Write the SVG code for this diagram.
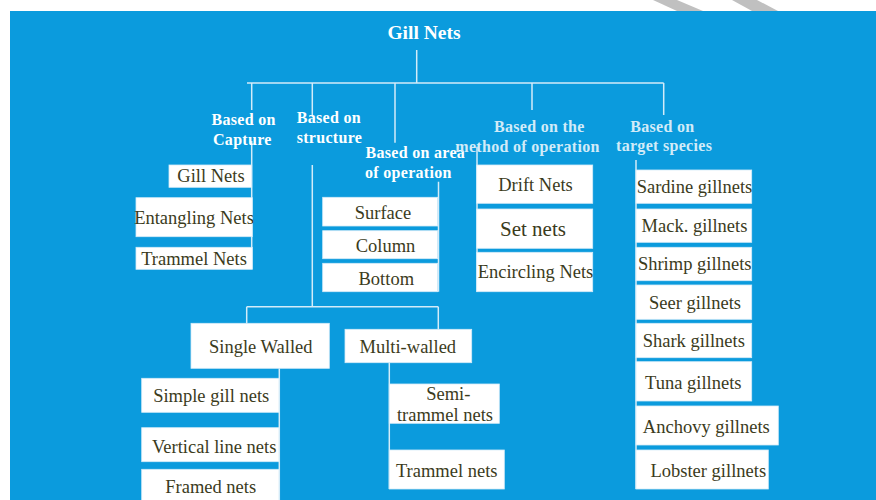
<svg xmlns="http://www.w3.org/2000/svg" width="876" height="500" viewBox="0 0 876 500">
<style>
.bg{fill:#0b9bdd}
.box{fill:#ffffff;stroke:#d4ecf8;stroke-width:0.8}
.lbl{font-family:"Liberation Serif","Times New Roman",serif;font-size:18.5px;fill:#3b3b1c;text-anchor:middle}
.hdr{font-family:"Liberation Serif","Times New Roman",serif;font-size:16px;font-weight:bold;fill:#ffffff;letter-spacing:0.3px}
.hdr2{fill:#d2ebf8}
.title{font-family:"Liberation Serif","Times New Roman",serif;font-size:19.5px;font-weight:bold;fill:#ffffff;text-anchor:middle}
.ln{stroke:#d3ecf9;stroke-width:1.5;fill:none}
</style>
<rect width="876" height="500" fill="#ffffff"/>
<polygon points="653,0 677,0 703,11 677,11" fill="#c0c0c0"/>
<polygon points="732,0 757,0 778,11 752,11" fill="#c0c0c0"/>
<rect class="bg" x="10" y="11" width="866" height="489"/>

<g id="connectors">
<path class="ln" d="M416.7,50 V83 M247,83 H663.7"/>
<path class="ln" d="M251.7,83 V110 M251.7,141 V269"/>
<path class="ln" d="M312.3,83 V117 M312.3,165 V306.7 M246.7,306.7 H438.3 M246.7,306.7 V323.3 M438.3,306.7 V329.3"/>
<path class="ln" d="M395,83 V142.7 M438.5,181.7 V291.7"/>
<path class="ln" d="M532,83 V110 M477,146.7 V291.7"/>
<path class="ln" d="M663.7,83 V115 M636,160 V489"/>
<path class="ln" d="M279.3,368.3 V500"/>
<path class="ln" d="M389.3,362.7 V489"/>
</g>

<g id="title"><text class="title" x="424" y="39">Gill Nets</text></g>

<g id="hdr-capture"><text class="hdr" x="211.5" y="125">Based on</text><text class="hdr" x="213" y="144.5">Capture</text></g>
<g id="hdr-structure"><text class="hdr" x="296.7" y="123.3">Based on</text><text class="hdr" x="296.7" y="142.7">structure</text></g>
<g id="hdr-area"><text class="hdr" x="365.5" y="158.3">Based on area</text><text class="hdr" x="365" y="177.7">of operation</text></g>
<g id="hdr-method"><text class="hdr hdr2" x="494" y="131.7">Based on the</text><text class="hdr hdr2" x="455.3" y="151.7">method of operation</text></g>
<g id="hdr-species"><text class="hdr hdr2" x="630.3" y="131.7">Based on</text><text class="hdr hdr2" x="616" y="151.2">target species</text></g>

<g id="n-gillnets"><rect class="box" x="169" y="165" width="82.7" height="22.3"/><text class="lbl" x="211" y="181.7">Gill Nets</text></g>
<g id="n-entangling"><rect class="box" x="136" y="197.7" width="116.3" height="39"/><text class="lbl" x="194" y="224">Entangling Nets</text></g>
<g id="n-trammel1"><rect class="box" x="136" y="247.3" width="116.3" height="22"/><text class="lbl" x="194" y="265">Trammel Nets</text></g>

<g id="n-surface"><rect class="box" x="322.7" y="197.3" width="115" height="28.7"/><text class="lbl" x="383" y="219">Surface</text></g>
<g id="n-column"><rect class="box" x="322.7" y="230.7" width="115" height="28"/><text class="lbl" x="385.5" y="252.3">Column</text></g>
<g id="n-bottom"><rect class="box" x="322.7" y="263.3" width="115" height="28.4"/><text class="lbl" x="386.3" y="285">Bottom</text></g>

<g id="n-drift"><rect class="box" x="476.7" y="165" width="116" height="38.3"/><text class="lbl" x="535.5" y="191">Drift Nets</text></g>
<g id="n-set"><rect class="box" x="476.7" y="209" width="116" height="39.3"/><text class="lbl" x="533" y="236" style="font-size:21px">Set nets</text></g>
<g id="n-encircling"><rect class="box" x="476.7" y="252.3" width="116" height="39.4"/><text class="lbl" x="535.5" y="278.3">Encircling Nets</text></g>

<g id="n-sardine"><rect class="box" x="636" y="170" width="115.7" height="33.3"/><text class="lbl" x="694.5" y="192.7">Sardine gillnets</text></g>
<g id="n-mack"><rect class="box" x="636" y="209" width="115.7" height="33.3"/><text class="lbl" x="694.5" y="231.7">Mack. gillnets</text></g>
<g id="n-shrimp"><rect class="box" x="636" y="247.3" width="115.7" height="33.4"/><text class="lbl" x="694.7" y="270">Shrimp gillnets</text></g>
<g id="n-seer"><rect class="box" x="636" y="285" width="115.7" height="34.3"/><text class="lbl" x="695" y="309.3">Seer gillnets</text></g>
<g id="n-shark"><rect class="box" x="636" y="323.3" width="115.7" height="34.4"/><text class="lbl" x="693.8" y="346.7">Shark gillnets</text></g>
<g id="n-tuna"><rect class="box" x="636" y="361.7" width="115.7" height="39.3"/><text class="lbl" x="693.3" y="389">Tuna gillnets</text></g>
<g id="n-anchovy"><rect class="box" x="636" y="406" width="142.3" height="39"/><text class="lbl" x="706.3" y="433.3">Anchovy  gillnets</text></g>
<g id="n-lobster"><rect class="box" x="636" y="450" width="132.3" height="39"/><text class="lbl" x="708.3" y="476.7">Lobster gillnets</text></g>

<g id="n-single"><rect class="box" x="191" y="323.3" width="138.3" height="45"/><text class="lbl" x="260.8" y="352.7">Single Walled</text></g>
<g id="n-multi"><rect class="box" x="345" y="329.3" width="126.7" height="33.4"/><text class="lbl" x="407.8" y="352.7">Multi-walled</text></g>

<g id="n-simple"><rect class="box" x="141.7" y="378.3" width="137.3" height="34"/><text class="lbl" x="211.2" y="401.7">Simple gill nets</text></g>
<g id="n-vertical"><rect class="box" x="141.7" y="427.7" width="137.3" height="34"/><text class="lbl" x="214.2" y="452.7">Vertical line nets</text></g>
<g id="n-framed"><rect class="box" x="141.7" y="469.3" width="137.3" height="40"/><text class="lbl" x="210.7" y="492.7">Framed nets</text></g>

<g id="n-semitrammel"><rect class="box" x="389.3" y="384" width="110" height="39.3"/><text class="lbl" x="448.3" y="400">Semi-</text><text class="lbl" x="445" y="420.7">trammel nets</text></g>
<g id="n-trammel2"><rect class="box" x="389.3" y="450" width="115" height="39"/><text class="lbl" x="446.7" y="476.7">Trammel nets</text></g>
</svg>
